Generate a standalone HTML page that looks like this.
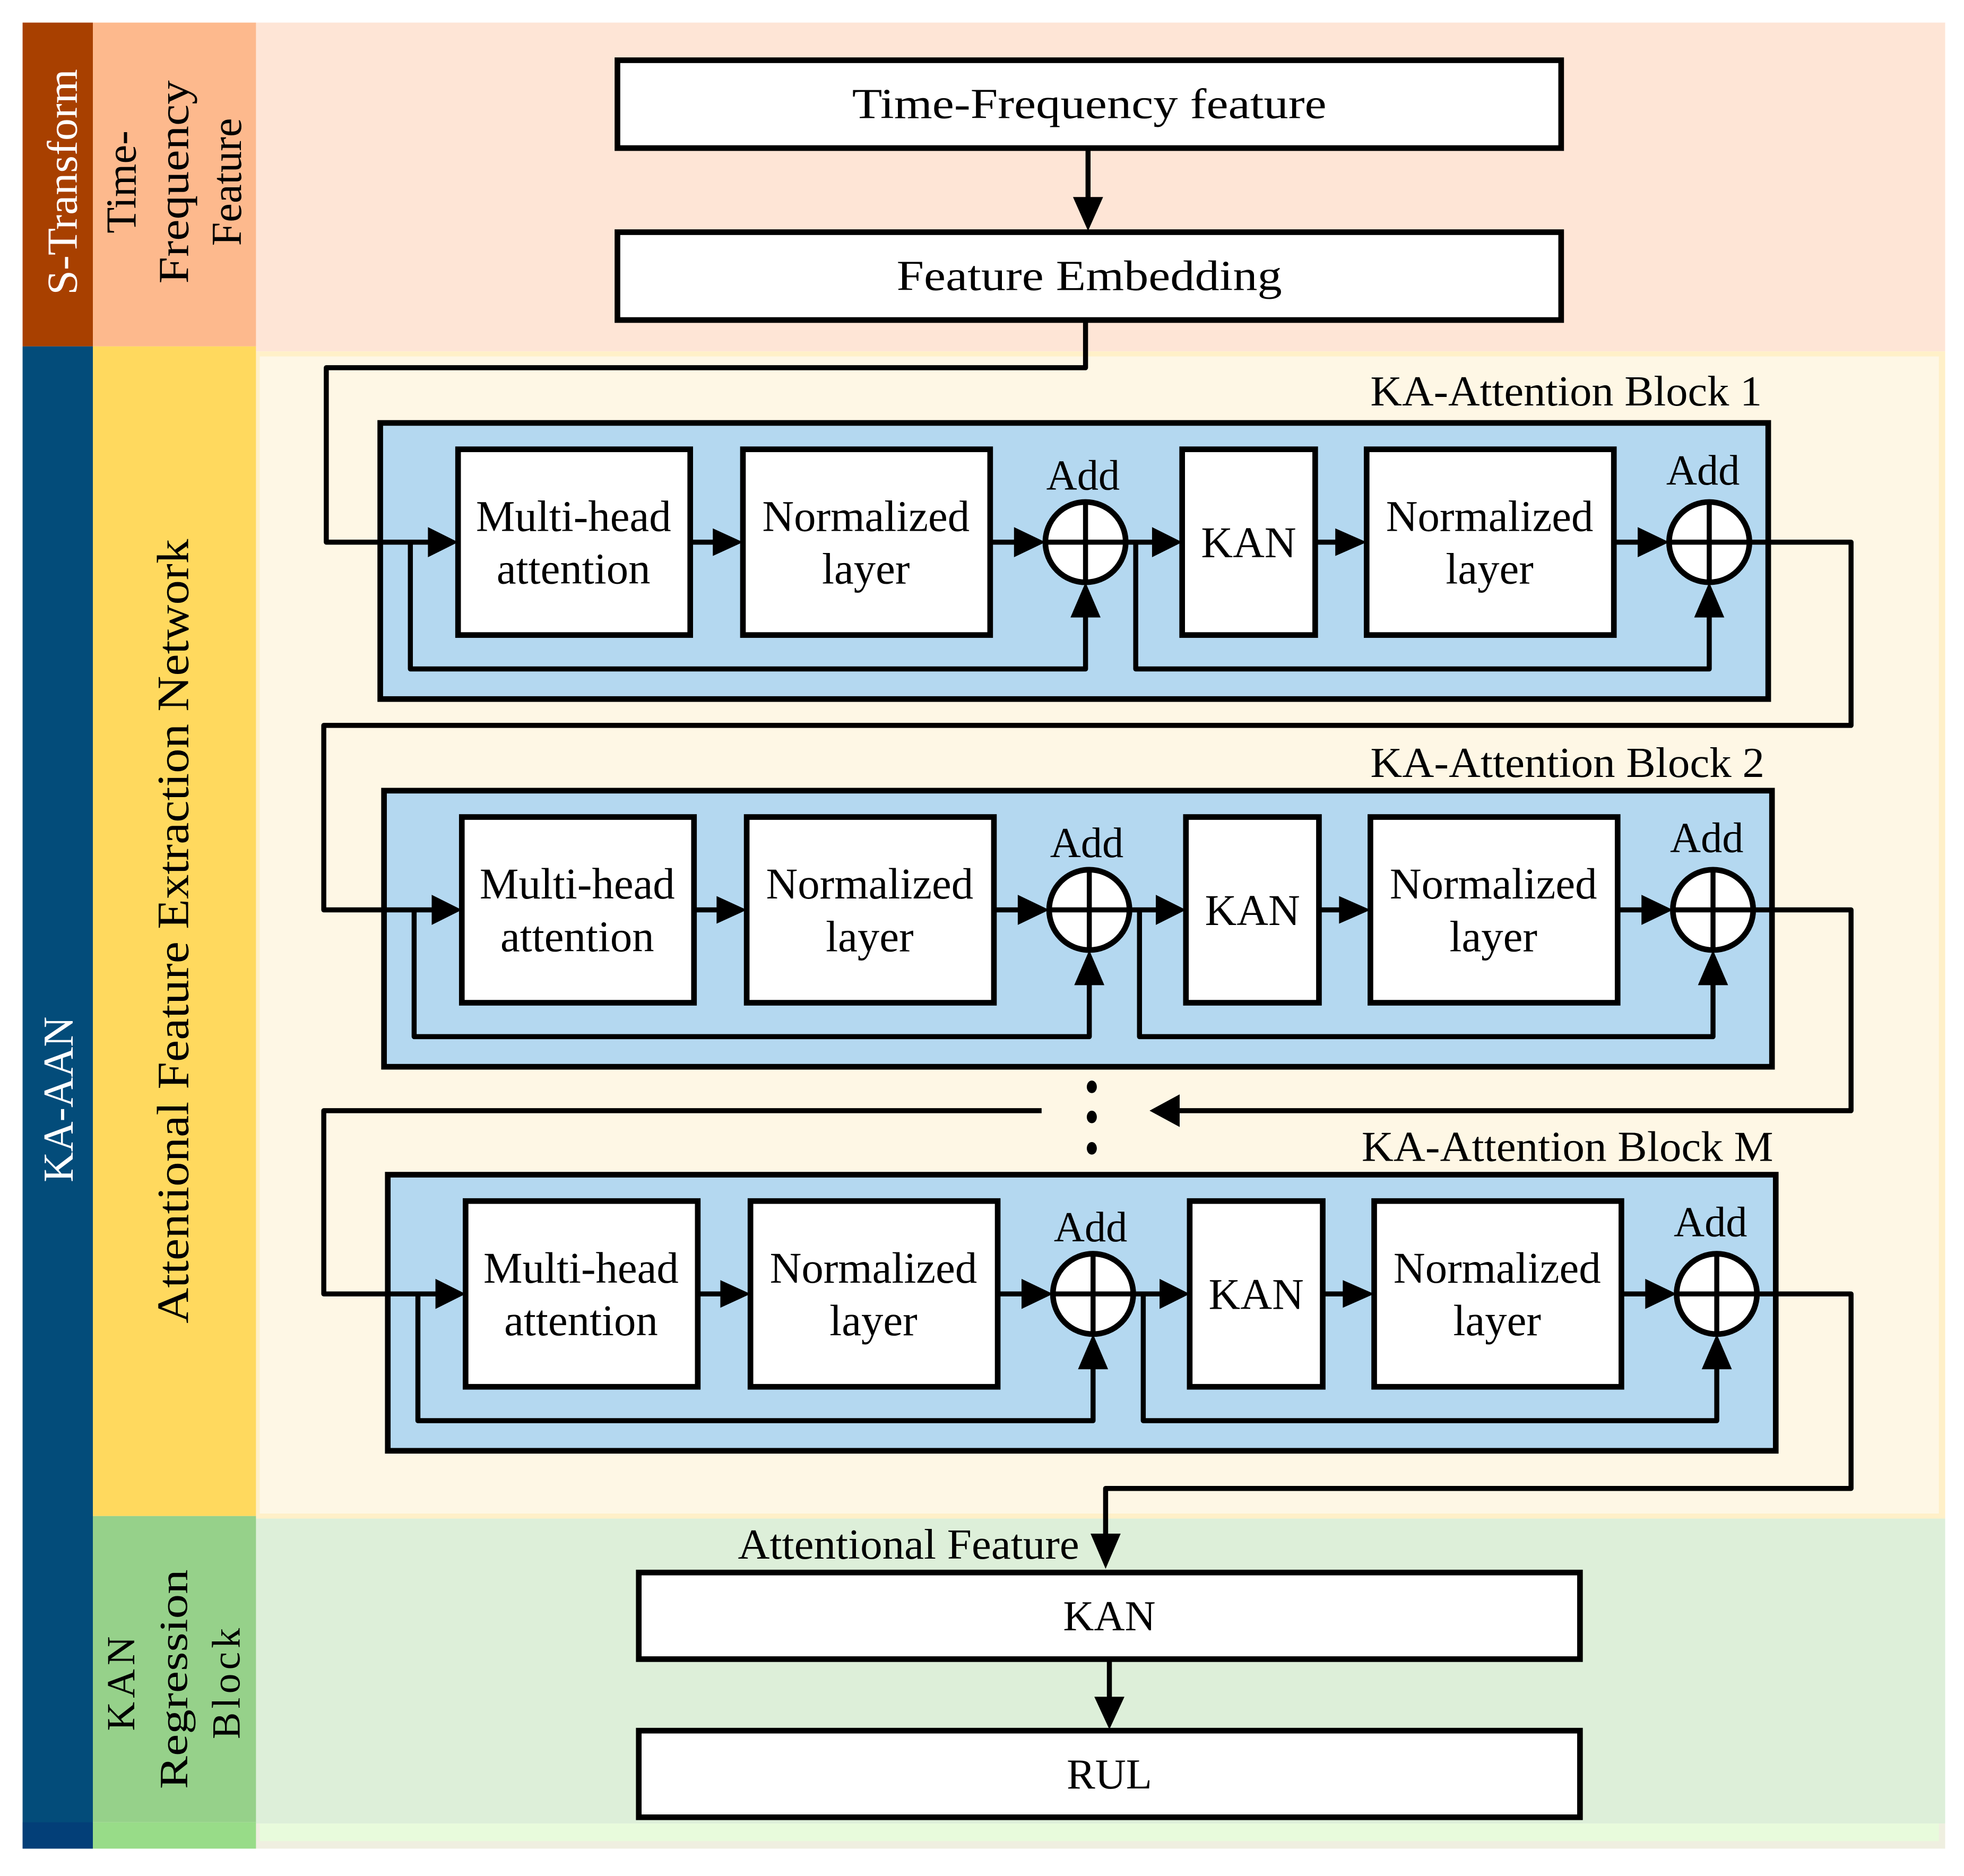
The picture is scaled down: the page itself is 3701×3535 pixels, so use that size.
<!DOCTYPE html>
<html><head><meta charset="utf-8"><style>
html,body{margin:0;padding:0;background:#fff;}
svg{display:block;}
text{font-family:"Liberation Serif",serif;fill:#000;}
</style></head><body>
<svg width="3701" height="3535" viewBox="0 0 1565 1494.8" preserveAspectRatio="none" xmlns="http://www.w3.org/2000/svg">
<defs>
<g id="blk">
  <rect x="303" y="337" width="1106" height="220" fill="#B4D8F0" stroke="#000" stroke-width="4.5"/>
  <g fill="#fff" stroke="#000" stroke-width="4.5">
    <rect x="365" y="358" width="185" height="148"/>
    <rect x="592" y="358" width="197" height="148"/>
    <rect x="942" y="358" width="106" height="148"/>
    <rect x="1089" y="358" width="197" height="148"/>
    <circle cx="865" cy="432" r="32"/>
    <circle cx="1362" cy="432" r="32"/>
  </g>
  <g stroke="#000" stroke-width="4" fill="none">
    <line x1="833" y1="432" x2="897" y2="432"/><line x1="865" y1="400" x2="865" y2="464"/>
    <line x1="1330" y1="432" x2="1394" y2="432"/><line x1="1362" y1="400" x2="1362" y2="464"/>
    <line x1="550" y1="432" x2="572" y2="432"/>
    <line x1="789" y1="432" x2="810" y2="432"/>
    <line x1="897" y1="432" x2="920" y2="432"/>
    <line x1="1048" y1="432" x2="1068" y2="432"/>
    <line x1="1286" y1="432" x2="1308" y2="432"/>
    <polyline points="327,432 327,533 865,533 865,490" stroke-linejoin="round"/>
    <polyline points="905,432 905,533 1362,533 1362,490" stroke-linejoin="round"/>
  </g>
  <g fill="#000">
    <polygon points="341,420 365,432 341,444"/>
    <polygon points="568,421 592,432 568,443"/>
    <polygon points="808,420 833,432 808,444"/>
    <polygon points="918,420 942,432 918,444"/>
    <polygon points="1064,421 1089,432 1064,443"/>
    <polygon points="1305,420 1330,432 1305,444"/>
    <polygon points="853,492 865,464 877,492"/>
    <polygon points="1350,492 1362,464 1374,492"/>
  </g>
  <g font-size="35" text-anchor="middle">
    <text x="457" y="423">Multi-head</text><text x="457" y="465">attention</text>
    <text x="690" y="423">Normalized</text><text x="690" y="465">layer</text>
    <text x="995" y="444">KAN</text>
    <text x="1187" y="423">Normalized</text><text x="1187" y="465">layer</text>
    <text x="863" y="390" font-size="34">Add</text>
    <text x="1357" y="386" font-size="34">Add</text>
  </g>
</g>
</defs>

<rect x="18" y="18" width="56" height="258" fill="#A84000"/>
<rect x="18" y="276" width="56" height="1197" fill="#034C7A"/>
<rect x="74" y="18" width="130" height="258" fill="#FDB98D"/>
<rect x="74" y="276" width="130" height="932" fill="#FFD95E"/>
<rect x="74" y="1208" width="130" height="244" fill="#96D18A"/>
<rect x="74" y="1452" width="130" height="21" fill="#98DC88"/>
<rect x="18" y="1452" width="56" height="21" fill="#033F78"/>

<rect x="204" y="18" width="1346" height="262" fill="#FEE5D6"/>
<rect x="204" y="280" width="1346" height="930" fill="#FFF0C8"/>
<rect x="207" y="284" width="1338" height="922" fill="#FEF7E5"/>
<rect x="204" y="1210" width="1346" height="243" fill="#DDEFD9"/>
<rect x="204" y="1453" width="1346" height="20" fill="#EFEFE0"/>
<rect x="207" y="1453" width="1338" height="14" fill="#E8FBDC"/>

<text transform="translate(61,145) rotate(-90)" font-size="34" style="fill:#fff" text-anchor="middle" textLength="180" lengthAdjust="spacingAndGlyphs">S-Transform</text>
<text transform="translate(108,145) rotate(-90)" font-size="34" text-anchor="middle">Time-</text>
<text transform="translate(150,145) rotate(-90)" font-size="34" text-anchor="middle" textLength="162" lengthAdjust="spacingAndGlyphs">Frequency</text>
<text transform="translate(192,145) rotate(-90)" font-size="34" text-anchor="middle">Feature</text>
<text transform="translate(58,876) rotate(-90)" font-size="34" style="fill:#fff" text-anchor="middle" textLength="132" lengthAdjust="spacingAndGlyphs">KA-AAN</text>
<text transform="translate(150,742) rotate(-90)" font-size="36" text-anchor="middle" textLength="625" lengthAdjust="spacingAndGlyphs">Attentional Feature Extraction Network</text>
<text transform="translate(107,1340) rotate(-90)" font-size="32" text-anchor="middle" letter-spacing="3">KAN</text>
<text transform="translate(149,1338) rotate(-90)" font-size="32" text-anchor="middle" textLength="175" lengthAdjust="spacingAndGlyphs">Regression</text>
<text transform="translate(191,1340) rotate(-90)" font-size="32" text-anchor="middle" letter-spacing="3">Block</text>

<g fill="#fff" stroke="#000" stroke-width="4.5">
  <rect x="492" y="48" width="752" height="70"/>
  <rect x="492" y="185" width="752" height="70"/>
  <rect x="509" y="1253" width="750" height="69"/>
  <rect x="509" y="1379" width="750" height="69"/>
</g>
<g font-size="34" text-anchor="middle">
  <text x="868" y="94" textLength="378" lengthAdjust="spacingAndGlyphs">Time-Frequency feature</text>
  <text x="868" y="231" textLength="307" lengthAdjust="spacingAndGlyphs">Feature Embedding</text>
  <text x="884" y="1299">KAN</text>
  <text x="884" y="1425">RUL</text>
  <text x="588" y="1242" text-anchor="start" textLength="272" lengthAdjust="spacingAndGlyphs">Attentional Feature</text>
  <text x="1092" y="323" text-anchor="start" textLength="312" lengthAdjust="spacingAndGlyphs">KA-Attention Block 1</text>
  <text x="1092" y="619" text-anchor="start" textLength="314" lengthAdjust="spacingAndGlyphs">KA-Attention Block 2</text>
  <text x="1085" y="925" text-anchor="start" textLength="328" lengthAdjust="spacingAndGlyphs">KA-Attention Block M</text>
</g>

<use href="#blk"/>
<use href="#blk" transform="translate(3,293)"/>
<use href="#blk" transform="translate(6,599)"/>

<g stroke="#000" stroke-width="4" fill="none" stroke-linejoin="round">
  <line x1="867" y1="118" x2="867" y2="160"/>
  <polyline points="865,255 865,293 260,293 260,432 345,432"/>
  <polyline points="1394,432 1475,432 1475,578 258,578 258,725 348,725"/>
  <polyline points="1397,725 1475,725 1475,885 940,885"/>
  <polyline points="830,885 258,885 258,1031 351,1031"/>
  <polyline points="1400,1031 1475,1031 1475,1186 881,1186 881,1225"/>
  <line x1="884" y1="1322" x2="884" y2="1355"/>
</g>
<g fill="#000">
  <polygon points="855,157 867,184 879,157"/>
  <polygon points="940,872 916,885 940,898"/>
  <polygon points="869,1222 881,1250 893,1222"/>
  <polygon points="872,1352 884,1378 896,1352"/>
  <ellipse cx="870" cy="866" rx="4" ry="5"/>
  <ellipse cx="870" cy="890" rx="4" ry="5"/>
  <ellipse cx="870" cy="915" rx="4" ry="5"/>
</g>
</svg>
</body></html>
